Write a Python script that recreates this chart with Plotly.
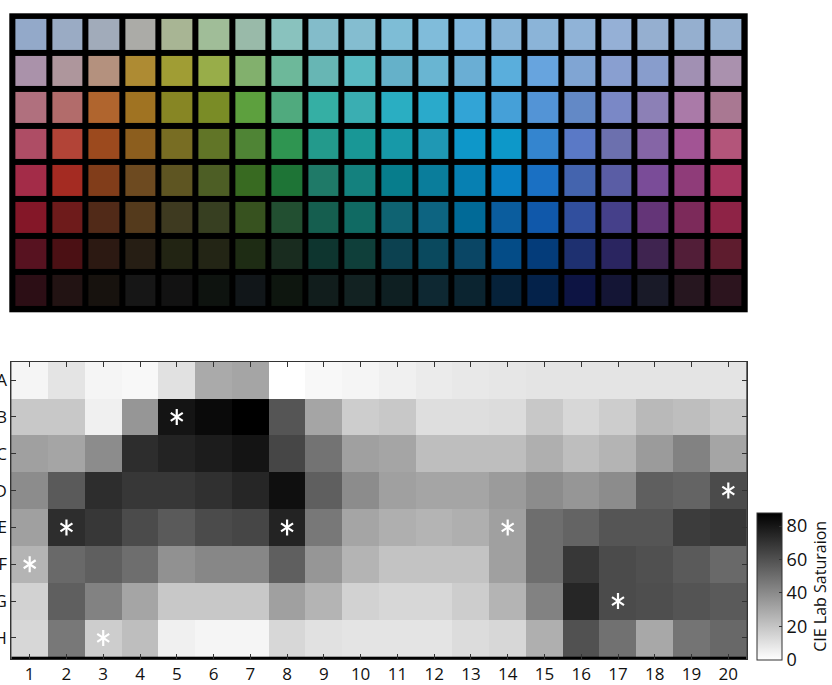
import plotly.graph_objects as go

# ---------------- data ----------------
rows = ["A", "B", "C", "D", "E", "F", "G", "H"]
cols = list(range(1, 21))

# colour chips shown in the upper panel (8 rows x 20 columns)
chip_row_A = ["#93A9C9", "#9AABC4", "#A1ABBA", "#ABABA7", "#A8B594", "#A0BD98", "#99BAA9", "#89C2BE", "#83BCCA", "#84BDD0",
              "#7EBDD6", "#80BCDA", "#82B9DD", "#88B5D8", "#8BB4D8", "#90B3D7", "#95B0D6", "#95AFD0", "#95AFCF", "#96B1D0"]
chip_row_B = ["#AA92AA", "#AE969C", "#B4917E", "#AE8B33", "#A09D34", "#98AD49", "#82B06D", "#6DB89A", "#67B6B4", "#59BAC2",
              "#65B1C9", "#69B5D2", "#6AAED4", "#5AAEDC", "#67A4DE", "#80A5D3", "#899FD0", "#889DCC", "#A190B3", "#AA91AE"]
chip_row_C = ["#B0707E", "#B26C6B", "#B0652E", "#A07322", "#878624", "#7A8C26", "#5DA03E", "#50AA7E", "#35AFA4", "#3AAEB2",
              "#2AAEC2", "#2AAACB", "#32A4D6", "#45A0D8", "#5394D6", "#6389C6", "#7A88C6", "#8C80B6", "#AA7AA8", "#A97892"]
chip_row_D = ["#AE4D65", "#B24437", "#9C4A1E", "#8C5E1E", "#786D23", "#617527", "#4F8435", "#2F9551", "#239A8C", "#199796",
              "#1799A8", "#1F98B4", "#0E97C9", "#0D98C9", "#3485CF", "#5A79C6", "#6C70AE", "#8565A6", "#A25494", "#B3557A"]
chip_row_E = ["#A32C48", "#A42B22", "#813D1A", "#6D4A20", "#5E5522", "#4D5E25", "#386A21", "#1E7436", "#1F7A68", "#14817E",
              "#077D8C", "#0A7D9B", "#0780B2", "#0980C3", "#1A70C3", "#4464AE", "#5A5DA5", "#7A4C98", "#8F3C79", "#A6345E"]
chip_row_F = ["#841728", "#6E1B1B", "#512A18", "#543A1C", "#3E3A20", "#373F21", "#37521F", "#224F31", "#155E4F", "#106A63",
              "#0F6372", "#0D6481", "#016A97", "#0B5D9E", "#1058AA", "#314F9E", "#45408A", "#643578", "#7C2A5A", "#8E2346"]
chip_row_G = ["#571220", "#4B1014", "#2C1912", "#261E14", "#222413", "#232515", "#1E2C14", "#192C1F", "#0E352F", "#0F3F3A",
              "#0C4150", "#0A495E", "#0A4665", "#044C87", "#043C7A", "#1E3070", "#2A2560", "#3F2450", "#521E38", "#5E1C2E"]
chip_row_H = ["#2C0E15", "#221313", "#17120E", "#161616", "#121212", "#0E130F", "#111619", "#0E160F", "#111D1C", "#122222",
              "#0E1F22", "#0E2832", "#0B2430", "#06223A", "#04224A", "#0D1443", "#141535", "#191A28", "#26161F", "#2C141E"]
chips = [chip_row_A, chip_row_B, chip_row_C, chip_row_D, chip_row_E, chip_row_F, chip_row_G, chip_row_H]

# CIE Lab saturation per chip (lower panel)
sat_A = [3.5, 9.3, 3.5, 2.4, 10.4, 29.3, 31.1, 0.0, 2.4, 3.5, 5.2, 6.9, 7.9, 8.6, 9.3, 9.3, 9.3, 9.3, 9.3, 9.3]
sat_B = [19.0, 19.0, 5.2, 36.2, 81.1, 84.5, 88.0, 58.7, 31.1, 17.3, 19.0, 11.4, 11.4, 12.1, 19.0, 13.8, 17.3, 24.2, 22.4, 19.0]
sat_C = [32.8, 31.1, 39.7, 72.5, 75.9, 78.3, 81.1, 63.8, 48.3, 32.8, 31.1, 22.4, 22.4, 22.4, 27.6, 22.4, 25.9, 34.5, 43.1, 31.1]
sat_D = [39.7, 56.9, 72.5, 69.0, 69.0, 71.4, 74.9, 82.8, 55.2, 39.7, 32.8, 31.1, 31.1, 34.5, 39.7, 36.2, 39.7, 55.2, 53.5, 62.1]
sat_E = [32.8, 72.5, 69.0, 62.1, 56.9, 62.1, 63.8, 75.9, 46.6, 31.1, 27.6, 25.9, 27.6, 32.8, 50.0, 53.5, 58.7, 58.7, 67.3, 69.0]
sat_F = [25.9, 51.8, 55.2, 50.0, 38.0, 41.4, 41.4, 55.2, 36.2, 25.9, 20.7, 20.7, 20.7, 32.8, 50.0, 69.0, 62.1, 60.4, 56.9, 51.8]
sat_G = [15.5, 55.2, 43.1, 31.1, 19.0, 19.0, 19.0, 32.8, 25.9, 15.5, 13.8, 13.8, 17.3, 25.9, 43.1, 75.0, 62.0, 61.0, 59.0, 57.0]
sat_H = [13.8, 46.6, 17.3, 22.4, 5.2, 3.5, 3.5, 13.8, 10.4, 9.3, 9.3, 9.3, 12.1, 13.8, 27.6, 60.0, 49.0, 30.0, 48.0, 52.0]
saturation = [sat_A, sat_B, sat_C, sat_D, sat_E, sat_F, sat_G, sat_H]

# chips marked with an asterisk
star_cols = [5, 2, 8, 1, 3, 20, 14, 17]
star_rows = ["B", "E", "E", "F", "H", "D", "E", "G"]

cbar_ticks = [0, 20, 40, 60, 80]
cbar_title = "CIE Lab Saturaion"

# ---------------- figure ----------------
W, H = 832, 685
FONT = "Open Sans"

n_chips = len(rows) * len(cols)
flat_colors = [c for r in chips for c in r]
chip_index = [[i * len(cols) + j for j in range(len(cols))] for i in range(len(rows))]
chip_scale = [[k / (n_chips - 1), flat_colors[k]] for k in range(n_chips)]

fig = go.Figure()

fig.add_trace(go.Heatmap(
    z=chip_index, x=cols, y=rows, colorscale=chip_scale, zmin=0, zmax=n_chips - 1,
    showscale=False, xgap=6, ygap=6, hoverinfo="skip",
    xaxis="x", yaxis="y",
))

fig.add_trace(go.Heatmap(
    z=saturation, x=cols, y=rows,
    colorscale=[[0, "#ffffff"], [1, "#000000"]], zmin=0, zmax=88,
    xaxis="x2", yaxis="y2",
    colorbar=dict(
        x=757.3 / W, xanchor="left", xpad=0,
        y=1 - 586.3 / H, yanchor="middle", ypad=0,
        lenmode="pixels", len=147, thicknessmode="pixels", thickness=25,
        outlinecolor="#333333", outlinewidth=1,
        tickvals=cbar_ticks, ticks="inside", ticklen=3, tickcolor="#333333",
        tickfont=dict(family=FONT, size=18, color="#111111"),
        title=dict(text=cbar_title, side="right", font=dict(family=FONT, size=16, color="#111111")),
    ),
))

for sym in ["y-up-open", "y-down-open"]:
    fig.add_trace(go.Scatter(
        x=star_cols, y=star_rows, mode="markers",
        marker=dict(symbol=sym, size=10, line=dict(color="white", width=2.2), color="white"),
        xaxis="x2", yaxis="y2", hoverinfo="skip", showlegend=False,
    ))

fig.update_layout(
    width=W, height=H, margin=dict(l=0, r=0, t=0, b=0),
    paper_bgcolor="white", plot_bgcolor="black", showlegend=False,
    xaxis=dict(domain=[9.3 / W, 747.7 / W], range=[0.417, 20.59], visible=False, fixedrange=True),
    yaxis=dict(domain=[1 - 312.3 / H, 1 - 13.3 / H], type="category",
               range=[7.60, -0.571], visible=False, fixedrange=True),
    xaxis2=dict(domain=[11.3 / W, 746.7 / W], anchor="y2", range=[0.5, 20.5],
                tickvals=cols, ticks="inside", ticklen=5, tickcolor="#333333",
                showline=True, linecolor="#333333", linewidth=1, mirror="ticks",
                showgrid=False, zeroline=False, automargin=False,
                tickfont=dict(family=FONT, size=17, color="#111111")),
    yaxis2=dict(domain=[1 - 659 / H, 1 - 361.7 / H], anchor="x2", type="category",
                categoryorder="array", categoryarray=rows, autorange="reversed",
                ticks="inside", ticklen=5, tickcolor="#333333",
                showline=True, linecolor="#333333", linewidth=1, mirror="ticks",
                showgrid=False, zeroline=False, automargin=False,
                tickfont=dict(family=FONT, size=17, color="#111111")),
)

fig.write_html("out.html")
